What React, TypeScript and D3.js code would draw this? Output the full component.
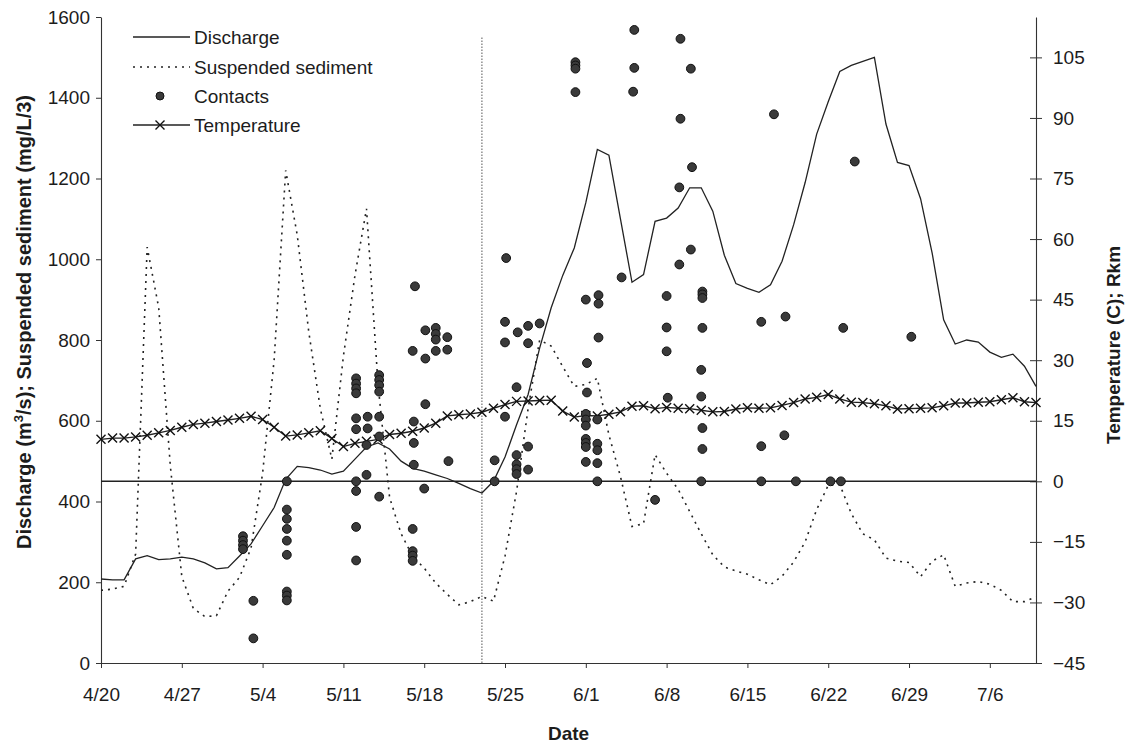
import * as d3 from "d3";
import React from "react";

// daily series, first value is 4/20
const startDate = "2000-04-20";
const endDate = "2000-07-10";

const discharge = [
	208, 206, 206, 258, 266, 256, 258, 262, 258, 248,
	233, 236, 265, 295, 340, 385, 455, 487, 484, 478,
	468, 475, 505, 535, 545, 530, 500, 482, 475, 466,
	457, 445, 432, 421, 450, 510, 590, 665, 780, 880,
	960, 1028, 1140, 1272, 1258, 1100, 943, 962, 1094, 1102,
	1127, 1177, 1177, 1119, 1010, 940, 928, 918, 937, 995,
	1085, 1190, 1310, 1390, 1465, 1480, 1490, 1500, 1335, 1240,
	1232, 1150, 1016, 850, 790, 800, 795, 770, 757, 765,
	735, 685,
];

const suspendedSediment = [
	180, 183, 190, 270, 1030, 880, 490, 214, 135, 115,
	117, 178, 212, 285, 470, 751, 1220, 1060, 820, 630,
	505, 760, 960, 1125, 690, 410, 320, 264, 235, 198,
	170, 144, 152, 165, 153, 265, 425, 630, 800, 785,
	734, 685, 690, 705, 565, 462, 338, 345, 516, 470,
	430, 375, 320, 268, 238, 228, 220, 206, 194, 215,
	250, 300, 380, 440, 442, 370, 320, 305, 260, 252,
	249, 214, 252, 268, 190, 198, 202, 195, 180, 152,
	152, 164,
];

const temperature = [
	10.4, 10.7, 10.7, 11.0, 11.4, 12.0, 12.6, 13.4, 14.1, 14.4,
	14.8, 15.2, 15.6, 16.1, 15.3, 13.4, 11.2, 11.5, 12.0, 12.5,
	10.6, 8.6, 9.4, 9.9, 10.4, 11.6, 11.9, 12.4, 13.2, 14.4,
	16.2, 16.5, 16.7, 17.1, 18.1, 19.0, 19.8, 19.9, 20.0, 20.1,
	17.4, 15.9, 16.3, 16.2, 16.6, 17.2, 18.6, 18.7, 18.0, 18.3,
	18.1, 18.0, 17.6, 17.2, 17.3, 17.9, 18.2, 18.1, 18.2, 18.8,
	19.5, 20.4, 20.8, 21.5, 20.4, 19.6, 19.5, 19.2, 18.7, 17.9,
	18.0, 18.1, 18.2, 18.7, 19.4, 19.4, 19.6, 19.7, 20.2, 20.7,
	19.7, 19.5,
];

// contacts: days after 4/20 and river km
const contactDays = [
	12.3, 12.3, 12.3, 12.3, 13.2, 13.2,
	16.1, 16.1, 16.1, 16.1, 16.1, 16.1, 16.1, 16.1, 16.1,
	22.1, 22.1, 22.1, 22.1, 22.1, 22.1, 22.1, 22.1, 22.1, 22.1,
	23.1, 23.1, 23.0, 23.0,
	24.1, 24.1, 24.1, 24.1, 24.1, 24.1, 24.1,
	27.2, 27.0, 27.1, 27.1, 27.1, 27.0, 27.0, 27.0, 27.0,
	28.1, 28.1, 28.1, 28.0,
	29.0, 29.0, 29.0, 29.0,
	30.0, 30.0, 30.1,
	34.1, 34.1,
	35.1, 35.0, 35.0, 35.0,
	36.1, 36.0, 36.0, 36.0, 36.0, 36.0,
	37.0, 37.0, 37.0, 37.0,
	38.0,
	41.1, 41.1, 41.1, 41.1,
	42.0, 42.1, 42.1, 42.0, 42.0, 42.0, 42.0, 42.0, 42.0, 42.0,
	43.1, 43.1, 43.1, 43.0, 43.0, 43.0, 43.0, 43.0,
	45.1, 46.2, 46.2, 46.1, 48.0,
	49.0, 49.0, 49.0, 49.1,
	50.2, 50.2, 50.1, 50.1,
	51.1, 51.2, 51.1,
	52.1, 52.1, 52.1, 52.1, 52.0, 52.0, 52.1, 52.1, 52.0,
	57.2, 57.2, 57.2,
	58.3, 59.3, 59.2, 60.2,
	63.2, 64.1, 64.3, 65.3,
	70.2,
];

const contactRkm = [
	-13.6, -14.7, -15.8, -16.8, -29.6, -38.9,
	0, -7.0, -9.3, -11.8, -14.7, -18.2, -27.3, -28.3, -29.5,
	0, -2.4, -11.3, -19.6, 25.5, 24.2, 23.0, 21.8, 15.6, 12.9,
	16.0, 13.1, 9.0, 1.6,
	26.3, 25.1, 23.8, 22.2, 16.0, 11.1, -3.8,
	48.3, 32.3, 14.8, 9.5, 4.1, -11.8, -17.3, -18.4, -19.7,
	37.4, 30.4, 19.1, -1.8,
	38.0, 36.5, 35.1, 32.3,
	35.7, 32.6, 5.0,
	5.2, 0,
	55.3, 39.5, 34.4, 16.0,
	36.9, 23.3, 6.5, 4.2, 3.0, 1.8,
	38.5, 34.2, 8.6, 2.9,
	39.1,
	103.8, 103.0, 102.2, 96.4,
	45.0, 29.3, 22.0, 16.7, 15.3, 13.8, 10.5, 9.5, 8.5, 4.8,
	46.1, 44.0, 35.6, 15.3, 9.3, 7.7, 4.5, 0,
	50.5, 111.8, 102.4, 96.5, -4.6,
	45.9, 38.1, 32.2, 20.7,
	109.6, 89.8, 72.8, 53.7,
	102.2, 77.8, 57.4,
	47.0, 46.3, 45.4, 38.0, 27.6, 21.0, 13.2, 8.0, 0,
	39.5, 8.7, 0,
	90.9, 40.8, 11.4, 0,
	0, 0, 38.0, 79.2,
	35.8,
];

// dotted reference line on 5/23
const markerDay = 33;
const markerTop = 1550;

const leftTicks = [0, 200, 400, 600, 800, 1000, 1200, 1400, 1600];
const rightTicks = [-45, -30, -15, 0, 15, 30, 45, 60, 75, 90, 105];
const legendLabels = ["Discharge", "Suspended sediment", "Contacts", "Temperature"];

const FONT = "'Liberation Sans', Arial, sans-serif";
const INK = "#1c1c1c";

export default function App() {
	const svgRef = React.useRef<SVGSVGElement>(null);

	React.useEffect(() => {
		if (!svgRef.current) return;
		const svg = d3.select(svgRef.current);
		svg.selectAll("*").remove();

		const parse = d3.utcParse("%Y-%m-%d");
		const start = parse(startDate) as Date;
		const end = parse(endDate) as Date;
		const dates = discharge.map((_, i) => d3.utcDay.offset(start, i));
		const atDay = (d: number) => new Date(start.getTime() + d * 864e5);

		const x = d3.scaleUtc().domain([start, end]).range([101, 1036]);
		const yLeft = d3.scaleLinear().domain([0, 1600]).range([663, 17]);
		const yRight = d3.scaleLinear().domain([-45, 115]).range([663, 17]);

		svg.append("rect").attr("width", 1131).attr("height", 745).attr("fill", "white");

		// Step 1: axes
		const styleAxis = (g: d3.Selection<SVGGElement, unknown, null, undefined>) => {
			g.attr("font-family", FONT).attr("font-size", 19);
			g.selectAll(".domain").attr("stroke", "#333").attr("stroke-width", 1.1);
			g.selectAll(".tick line").attr("stroke", "#333");
			g.selectAll(".tick text").attr("fill", INK);
		};

		svg
			.append("g")
			.attr("transform", "translate(101,0)")
			.call(
				d3
					.axisLeft(yLeft)
					.tickValues(leftTicks)
					.tickFormat(d3.format("d"))
					.tickSize(5)
					.tickSizeOuter(0)
					.tickPadding(6),
			)
			.call(styleAxis);

		const right = svg
			.append("g")
			.attr("transform", "translate(1036,0)")
			.call(
				d3
					.axisRight(yRight)
					.tickValues(rightTicks)
					.tickFormat(d3.format("d"))
					.tickSize(6)
					.tickSizeOuter(0)
					.tickPadding(11),
			)
			.call(styleAxis);
		right.selectAll(".tick line").attr("x1", -6);

		const xTicks = d3.range(0, dates.length, 7).map((d) => d3.utcDay.offset(start, d));
		svg
			.append("g")
			.attr("transform", "translate(0,663)")
			.call(
				d3
					.axisBottom(x)
					.tickValues(xTicks)
					.tickFormat((d) => d3.utcFormat("%-m/%-d")(d as Date))
					.tickSize(5)
					.tickSizeOuter(0)
					.tickPadding(20),
			)
			.call(styleAxis);

		// axis titles
		const leftTitle = svg
			.append("text")
			.attr("transform", "translate(31,322) rotate(-90)")
			.attr("text-anchor", "middle")
			.attr("font-family", FONT)
			.attr("font-size", 20)
			.attr("font-weight", "bold")
			.attr("fill", INK);
		leftTitle.append("tspan").text("Discharge (m");
		leftTitle.append("tspan").attr("font-size", 13).attr("dy", -8).text("3");
		leftTitle.append("tspan").attr("dy", 8).text("/s); Suspended sediment (mg/L/3)");

		svg
			.append("text")
			.attr("transform", "translate(1120,345) rotate(-90)")
			.attr("text-anchor", "middle")
			.attr("font-family", FONT)
			.attr("font-size", 19)
			.attr("font-weight", "bold")
			.attr("fill", INK)
			.text("Temperature (C); Rkm");

		svg
			.append("text")
			.attr("x", (x.range()[0] + x.range()[1]) / 2)
			.attr("y", 740)
			.attr("text-anchor", "middle")
			.attr("font-family", FONT)
			.attr("font-size", 19)
			.attr("font-weight", "bold")
			.attr("fill", INK)
			.text("Date");

		// Step 2: reference lines
		svg
			.append("line")
			.attr("x1", x(atDay(markerDay)))
			.attr("x2", x(atDay(markerDay)))
			.attr("y1", yLeft(0))
			.attr("y2", yLeft(markerTop))
			.attr("stroke", "#555")
			.attr("stroke-width", 1)
			.attr("stroke-dasharray", "1.5,1.5");

		svg
			.append("line")
			.attr("x1", x.range()[0])
			.attr("x2", x.range()[1])
			.attr("y1", yRight(0))
			.attr("y2", yRight(0))
			.attr("stroke", "#222")
			.attr("stroke-width", 1.6);

		// Step 3: series
		const leftLine = d3
			.line<number>()
			.x((_, i) => x(dates[i]))
			.y((v) => yLeft(v));

		svg
			.append("path")
			.attr("d", leftLine(suspendedSediment))
			.attr("fill", "none")
			.attr("stroke", "#222")
			.attr("stroke-width", 1.6)
			.attr("stroke-dasharray", "2,5");

		svg
			.append("path")
			.attr("d", leftLine(discharge))
			.attr("fill", "none")
			.attr("stroke", "#222")
			.attr("stroke-width", 1.3);

		const tempLine = d3
			.line<number>()
			.x((_, i) => x(dates[i]))
			.y((v) => yRight(v));

		svg
			.append("path")
			.attr("d", tempLine(temperature))
			.attr("fill", "none")
			.attr("stroke", "#222")
			.attr("stroke-width", 1.4);

		const cross = "M-4.5,-4.5L4.5,4.5M-4.5,4.5L4.5,-4.5";
		svg
			.append("g")
			.selectAll("path")
			.data(temperature)
			.join("path")
			.attr("transform", (v, i) => `translate(${x(dates[i])},${yRight(v)})`)
			.attr("d", cross)
			.attr("stroke", "#111")
			.attr("stroke-width", 1.4);

		svg
			.append("g")
			.selectAll("circle")
			.data(contactDays)
			.join("circle")
			.attr("cx", (d) => x(atDay(d)))
			.attr("cy", (_, i) => yRight(contactRkm[i]))
			.attr("r", 4.4)
			.attr("fill", "#3a3a3a")
			.attr("stroke", "#111")
			.attr("stroke-width", 1);

		// Step 4: legend
		const legend = svg.append("g").attr("font-family", FONT).attr("font-size", 19).attr("fill", INK);
		const rowY = [37, 67, 96, 125];
		legendLabels.forEach((label, i) => {
			const y = rowY[i];
			if (i !== 2) {
				legend
					.append("line")
					.attr("x1", 133)
					.attr("x2", 190)
					.attr("y1", y)
					.attr("y2", y)
					.attr("stroke", "#222")
					.attr("stroke-width", i === 1 ? 1.6 : 1.3)
					.attr("stroke-dasharray", i === 1 ? "2,5" : null);
			}
			if (i === 2) {
				legend
					.append("circle")
					.attr("cx", 160)
					.attr("cy", y)
					.attr("r", 4)
					.attr("fill", "#3a3a3a")
					.attr("stroke", "#111");
			}
			if (i === 3) {
				legend
					.append("path")
					.attr("transform", `translate(160,${y})`)
					.attr("d", cross)
					.attr("stroke", "#111")
					.attr("stroke-width", 1.4);
			}
			legend
				.append("text")
				.attr("x", 194)
				.attr("y", y)
				.attr("dy", "0.35em")
				.text(label);
		});
	}, []);

	return (
		<svg
			ref={svgRef}
			width={1131}
			height={745}
			style={{ position: "absolute", left: 0, top: 0 }}
		/>
	);
}
